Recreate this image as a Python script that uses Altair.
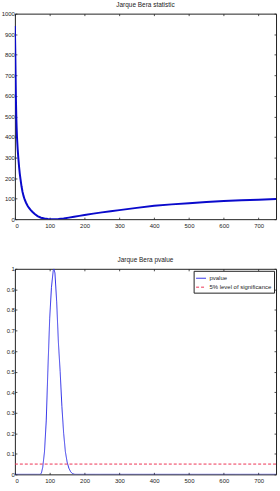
import altair as alt
import pandas as pd

# ---- data ----
jb_x = [0, 1, 2, 3, 4, 5, 6, 8, 10, 12, 14, 16, 19, 22, 25, 28, 32, 36, 40, 45, 50, 57, 65,
        75, 85, 95, 105, 115, 125, 140, 155, 170, 185, 200, 225, 250, 275, 300, 350, 400,
        450, 500, 550, 600, 650, 700, 750]
jb_stat = [940, 830, 700, 580, 500, 445, 400, 340, 295, 255, 222, 196, 160, 132, 112, 96, 80,
           67, 56, 45, 36, 25, 15, 7, 3, 1, 0.2, 0, 0.5, 3, 7.5, 12, 16, 20, 27, 33, 39, 44,
           55, 65, 72, 78, 83, 88, 92, 95, 98]

pv_x = [0, 72, 76, 80, 85, 90, 95, 100, 105, 110, 112, 115, 120, 125, 130, 135, 140, 145,
        150, 155, 160, 165, 172, 750]
pv_val = [0, 0, 0.005, 0.035, 0.11, 0.26, 0.52, 0.76, 0.91, 0.99, 1.0, 0.98, 0.84, 0.64,
          0.5, 0.33, 0.2, 0.11, 0.06, 0.03, 0.013, 0.004, 0, 0]

sig_level = 0.05
x_domain = [0, 750]
x_ticks = [0, 100, 200, 300, 400, 500, 600, 700]
jb_domain = [0, 1000]
jb_ticks = [0, 100, 200, 300, 400, 500, 600, 700, 800, 900, 1000]
pv_domain = [0, 1]
pv_ticks = [0, 0.1, 0.2, 0.3, 0.4, 0.5, 0.6, 0.7, 0.8, 0.9, 1]

series_names = ["pvalue", "5% level of significance"]
titles = ["Jarque Bera statistic", "Jarque Bera pvalue"]

W, H = 263, 207
FONT = "Liberation Sans"
TICK = 2

jb_df = pd.DataFrame({"x": jb_x, "y": jb_stat})
pv_df = pd.DataFrame({"x": pv_x, "y": pv_val, "series": series_names[0]})
sig_df = pd.DataFrame({"x": x_domain, "y": [sig_level, sig_level], "series": series_names[1]})
lines_df = pd.concat([pv_df, sig_df], ignore_index=True)


def axes_set(ydomain, yticks, yfmt):
    xs = alt.Scale(domain=x_domain, nice=False, zero=False)
    ys = alt.Scale(domain=ydomain, nice=False)
    main_x = alt.Axis(orient="bottom", values=x_ticks, ticks=False, domain=False, grid=False,
                      labelPadding=3, format="d")
    main_y = alt.Axis(orient="left", values=yticks, ticks=False, domain=False,
                      grid=False, labelPadding=0.5, format=yfmt)
    b_x = alt.Axis(orient="top", offset=-H, values=x_ticks, labels=False, tickSize=TICK,
                   domain=False, grid=False)
    b_y = alt.Axis(orient="right", offset=-W, values=yticks, labels=False, tickSize=TICK,
                   domain=False, grid=False)
    c_x = alt.Axis(orient="bottom", offset=-H, values=x_ticks, labels=False, tickSize=TICK,
                   domain=False, grid=False)
    c_y = alt.Axis(orient="left", offset=-W, values=yticks, labels=False, tickSize=TICK,
                   domain=False, grid=False)
    return xs, ys, (main_x, main_y), (b_x, b_y), (c_x, c_y)


# ---- top chart ----
xs, ys, A, B, C = axes_set(jb_domain, jb_ticks, "d")
top_main = alt.Chart(jb_df).mark_line(color="#0a0acc", strokeWidth=2, clip=True).encode(
    x=alt.X("x:Q", scale=xs, axis=A[0], title=None),
    y=alt.Y("y:Q", scale=ys, axis=A[1], title=None),
)
top_b = alt.Chart(jb_df).mark_line(opacity=0).encode(
    x=alt.X("x:Q", scale=xs, axis=B[0], title=None),
    y=alt.Y("y:Q", scale=ys, axis=B[1], title=None),
)
top_c = alt.Chart(jb_df).mark_line(opacity=0).encode(
    x=alt.X("x:Q", scale=xs, axis=C[0], title=None),
    y=alt.Y("y:Q", scale=ys, axis=C[1], title=None),
)
top = alt.layer(top_main, top_b, top_c).resolve_axis(x="independent", y="independent").properties(
    width=W, height=H, title=titles[0])

# ---- bottom chart ----
xs2, ys2, A2, B2, C2 = axes_set(pv_domain, pv_ticks, "")
legend = alt.Legend(orient="top-right", offset=2, title=None)
bot_main = alt.Chart(lines_df).mark_line(clip=True).encode(
    x=alt.X("x:Q", scale=xs2, axis=A2[0], title=None),
    y=alt.Y("y:Q", scale=ys2, axis=A2[1], title=None),
    color=alt.Color("series:N", scale=alt.Scale(domain=series_names, range=["#3030e8", "#ee3355"]),
                    legend=legend, sort=series_names),
    strokeDash=alt.StrokeDash("series:N", scale=alt.Scale(domain=series_names, range=[[1, 0], [3, 2]]),
                              legend=legend, sort=series_names),
    strokeWidth=alt.value(1),
)
bot_b = alt.Chart(pv_df).mark_line(opacity=0).encode(
    x=alt.X("x:Q", scale=xs2, axis=B2[0], title=None),
    y=alt.Y("y:Q", scale=ys2, axis=B2[1], title=None),
)
bot_c = alt.Chart(pv_df).mark_line(opacity=0).encode(
    x=alt.X("x:Q", scale=xs2, axis=C2[0], title=None),
    y=alt.Y("y:Q", scale=ys2, axis=C2[1], title=None),
)
bottom = alt.layer(bot_main, bot_b, bot_c).resolve_axis(x="independent", y="independent").properties(
    width=W, height=H, title=titles[1])

chart = alt.vconcat(top, bottom, spacing=28).resolve_legend(
    color="independent", strokeDash="independent"
).properties(
    padding={"left": 0, "top": 0, "right": 3, "bottom": 0}
).configure_view(
    stroke="#222222", strokeWidth=1
).configure_axis(
    labelFont=FONT, labelFontSize=6, labelColor="#222222", tickColor="#222222", tickWidth=0.8
).configure_title(
    font=FONT, fontSize=6.5, fontWeight="normal", color="#222222", offset=2, anchor="middle"
).configure_legend(
    strokeColor="#222222", fillColor="white", padding=2,
    labelFont=FONT, labelFontSize=6, labelColor="#222222", symbolType="stroke", symbolSize=100,
    symbolStrokeWidth=1, rowPadding=0, labelOffset=3, labelLimit=200, cornerRadius=0
)

chart.save("out.html", embed_options={"renderer": "svg", "actions": False})
